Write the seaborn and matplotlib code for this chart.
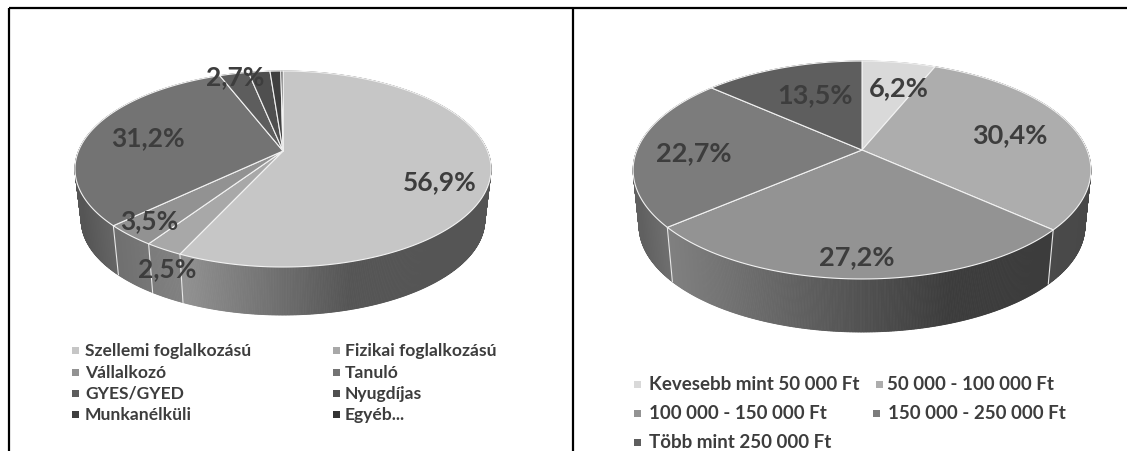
import numpy as np
import matplotlib
matplotlib.use("Agg")
import matplotlib.pyplot as plt
import seaborn as sns

# ---- data ----
occupation_labels = ["Szellemi foglalkozású", "Fizikai foglalkozású", "Vállalkozó", "Tanuló",
                     "GYES/GYED", "Nyugdíjas", "Munkanélküli", "Egyéb..."]
occupation_values = [56.9, 2.5, 3.5, 31.2, 2.7, 2.0, 1.0, 0.2]
occupation_shown = ["56,9%", "2,5%", "3,5%", "31,2%", "2,7%", None, None, None]

income_labels = ["Kevesebb mint 50 000 Ft", "50 000 - 100 000 Ft", "100 000 - 150 000 Ft",
                 "150 000 - 250 000 Ft", "Több mint 250 000 Ft"]
income_values = [6.2, 30.4, 27.2, 22.7, 13.5]
income_shown = ["6,2%", "30,4%", "27,2%", "22,7%", "13,5%"]

# ---- style ----
sns.set_theme(style="white")
plt.rcParams["font.family"] = ["Lato", "DejaVu Sans"]
TEXT = "#3d3d3d"
occupation_tops = ["#c6c6c6", "#a8a8a8", "#929292", "#737373", "#5d5d5d", "#4f4f4f", "#3f3f3f", "#333333"]
income_tops = ["#d9d9d9", "#adadad", "#939393", "#7c7c7c", "#5e5e5e"]

fig = plt.figure(figsize=(11.27, 4.52), dpi=100, facecolor="white")
ax = fig.add_axes([0, 0, 1, 1])
ax.set_xlim(0, 1127)
ax.set_ylim(452, 0)
ax.axis("off")


def project(theta, geo, scale=1.0, drop=0.0):
    """theta is clockwise from 12 o'clock; a true perspective view of the disc."""
    u, v = np.sin(theta), np.cos(theta)
    den = 1 + geo["k"] * v
    return geo["cx"] + scale * geo["R"] * u / den, geo["cy"] - scale * geo["B"] * v / den + drop


def draw_pie(values, tops, walls, geo):
    edges = np.radians(np.concatenate([[0], np.cumsum(values)]) / np.sum(values) * 360)
    s, d = geo["s"], geo["d"]
    for i in range(len(values)):
        th = np.linspace(edges[i], edges[i + 1], max(int(np.degrees(edges[i + 1] - edges[i]) * 3), 3))
        xt, yt = project(th, geo)
        xb, yb = project(th, geo, s, d)
        x0, x1, g0, g1 = walls[i]
        for j in range(len(th) - 1):
            g = np.interp((xt[j] + xt[j + 1]) / 2, [x0, x1], [g0, g1]) / 255
            ax.fill([xt[j], xt[j + 1], xb[j + 1], xb[j]], [yt[j], yt[j + 1], yb[j + 1], yb[j]],
                    color=(g, g, g), lw=0.6, zorder=2)
    # separators on the front wall
    for e in edges[:-1]:
        if np.cos(e) < -0.05 or abs(np.sin(e)) > 0.999:
            xt, yt = project(e, geo)
            xb, yb = project(e, geo, s, d)
            ax.plot([xt, xb], [yt, yb], color="#e8e8e8", lw=0.8, zorder=3)
    # top face
    for i in range(len(values)):
        th = np.linspace(edges[i], edges[i + 1], max(int(np.degrees(edges[i + 1] - edges[i]) * 3), 3))
        xt, yt = project(th, geo)
        ax.fill(np.r_[geo["cx"], xt], np.r_[geo["cy"], yt], facecolor=tops[i],
                edgecolor="#f2f2f2", lw=0.8, zorder=4, joinstyle="round")


left_geo = dict(cx=283, cy=152, R=204.5, B=94.7, k=0.1837, s=0.97, d=51.5)
right_geo = dict(cx=862, cy=151, R=225, B=105.3, k=0.1836, s=0.974, d=56.4)

left_walls = [(185, 350, 0x90, 0x55), (153, 185, 0x7c, 0x82), (117, 153, 0x70, 0x78), (80, 117, 0x55, 0x68),
              (0, 1, 0x50, 0x50), (0, 1, 0x48, 0x48), (0, 1, 0x40, 0x40), (0, 1, 0x38, 0x38)]
right_walls = [(0, 1, 0x90, 0x90), (1050, 1090, 0x4a, 0x48), (668, 950, 0x80, 0x3c), (638, 668, 0x60, 0x70),
               (0, 1, 0x50, 0x50)]

draw_pie(occupation_values, occupation_tops, left_walls, left_geo)
draw_pie(income_values, income_tops, right_walls, right_geo)

# ---- percentage labels ----
left_label_xy = [(440, 182), (167, 269), (149, 221), (148, 138), (235, 77)]
right_label_xy = [(899, 88), (1010, 135), (857, 257), (694, 153), (815, 95)]
for txt, (x, y) in zip([t for t in occupation_shown if t], left_label_xy):
    ax.text(x, y, txt, ha="center", va="center", fontsize=19, fontweight="bold", color=TEXT, zorder=6)
for txt, (x, y) in zip(income_shown, right_label_xy):
    ax.text(x, y, txt, ha="center", va="center", fontsize=19.5, fontweight="bold", color=TEXT, zorder=6)


# ---- legends ----
def legend_item(x_mark, x_text, y, label, color, size):
    ax.fill([x_mark, x_mark + 7, x_mark + 7, x_mark], [y - 3.5, y - 3.5, y + 3.5, y + 3.5], color=color, lw=0, zorder=5)
    ax.text(x_text, y, label, ha="left", va="center", fontsize=size, fontweight="bold", color=TEXT, zorder=6)


left_x = [(72, 85), (333, 345)]
left_rows = [351, 373, 394, 415]
for i, lab in enumerate(occupation_labels):
    xm, xt = left_x[i % 2]
    legend_item(xm, xt, left_rows[i // 2], lab, occupation_tops[i], 12.6)

right_pos = [(634, 649, 385), (876, 887, 385), (634, 649, 414), (873, 888, 414), (634, 649, 443)]
for (xm, xt, y), lab, col in zip(right_pos, income_labels, income_tops):
    legend_item(xm, xt, y, lab, col, 13.5)

# ---- frame ----
for xs, ys in [([9, 1127], [9, 9]), ([9, 9], [9, 452]), ([573, 573], [9, 452])]:
    ax.plot(xs, ys, color="black", lw=1.6, zorder=7, solid_capstyle="butt")

fig.savefig("out.png", dpi=100, facecolor="white")
